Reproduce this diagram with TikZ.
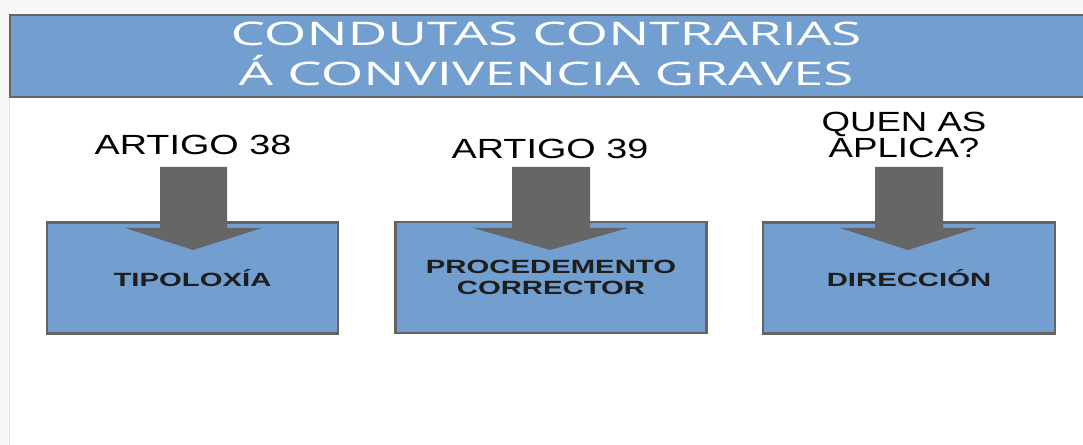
\documentclass[tikz,border=0pt]{standalone}
\usepackage{fontspec}
\usepackage{graphicx}
\setmainfont{Liberation Sans}
\newfontfamily\headfont{Open Sans}
\definecolor{boxblue}{RGB}{114,159,207}
\definecolor{rimgray}{RGB}{100,100,100}
\definecolor{arrowgray}{RGB}{102,102,102}
\definecolor{pagegray}{RGB}{247,247,247}
\definecolor{edgegray}{RGB}{228,228,228}
\definecolor{inkgray}{RGB}{30,30,30}
\tikzset{
	box/.style={draw=rimgray,line width=1.4pt,fill=boxblue,minimum height=2.22cm,inner sep=0},
	blockarrow/.style={fill=arrowgray},
	headtext/.style={text=white,font=\headfont\fontsize{18.5}{22.7}\selectfont,align=center,inner sep=0},
	toplabel/.style={font=\fontsize{15.8}{13.6}\selectfont,align=center,inner sep=0},
	boxtext/.style={text=inkgray,font=\bfseries\fontsize{10.9}{12.3}\selectfont,align=center}
}
\begin{document}
\begin{tikzpicture}[x=0.02cm,y=-0.02cm]
	\useasboundingbox (0,0) rectangle (1083,445);
	\fill[pagegray] (0,0) rectangle (1083,445);
	\fill[white] (10,13) rectangle (1083,445);
	\draw[edgegray,line width=0.8pt] (9.5,13) -- (9.5,445);

	% title bar
	\draw[box] (10,15) rectangle (1095,97);
	\node[headtext] (title) at (546,54) {\scalebox{1.68}[1]{CONDUTAS CONTRARIAS}\\\scalebox{1.68}[1]{Á CONVIVENCIA GRAVES}};

	% boxes
	\node[box,boxtext,minimum width=5.82cm] (tipo) at (192.5,278) {\scalebox{1.53}[1]{TIPOLOXÍA}};
	\node[box,boxtext,minimum width=6.22cm] (proc) at (551,277.5) {\scalebox{1.53}[1]{PROCEDEMENTO}\\\scalebox{1.53}[1]{CORRECTOR}};
	\node[box,boxtext,minimum width=5.84cm] (dir) at (909,278) {\scalebox{1.53}[1]{DIRECCIÓN}};

	% labels above
	\node[toplabel] (art38) at (193,145) {\scalebox{1.36}[1]{ARTIGO 38}};
	\node[toplabel] (art39) at (550,149) {\scalebox{1.36}[1]{ARTIGO 39}};
	\node[toplabel] (quen) at (904,135) {\scalebox{1.32}[1]{QUEN AS}\\\scalebox{1.32}[1]{APLICA?}};

	% block arrows
	\fill[blockarrow] (160,167) -- (227,167) -- (227,228) -- (262,228) -- (193,250) -- (125,228) -- (160,228) -- cycle;
	\fill[blockarrow] (512,167) -- (590,167) -- (590,228) -- (628,228) -- (550,250) -- (473,228) -- (512,228) -- cycle;
	\fill[blockarrow] (875,167) -- (943,167) -- (943,228) -- (977,228) -- (908,250) -- (840,228) -- (875,228) -- cycle;
\end{tikzpicture}
\end{document}
